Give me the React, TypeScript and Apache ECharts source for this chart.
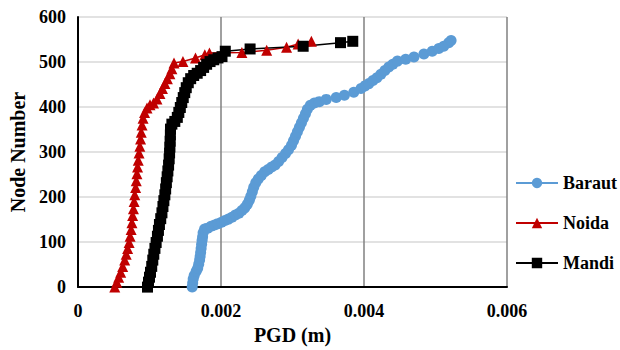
import React, { useEffect, useRef } from "react";
import * as echarts from "echarts";

const xTicks = [0, 0.002, 0.004, 0.006];
const yTicks = [0, 100, 200, 300, 400, 500, 600];

const barautX = [0.001597, 0.001604, 0.001611, 0.001625, 0.001653, 0.001674, 0.001688, 0.001701, 0.001708, 0.001715, 0.001722, 0.001729, 0.001736, 0.001743, 0.00175, 0.001771, 0.001813, 0.001861, 0.00191, 0.001958, 0.002007, 0.002056, 0.002104, 0.002153, 0.002201, 0.00225, 0.002292, 0.002333, 0.002368, 0.002396, 0.002417, 0.002438, 0.002458, 0.002486, 0.002521, 0.002563, 0.002611, 0.00266, 0.002708, 0.002757, 0.002806, 0.002854, 0.002903, 0.002944, 0.002986, 0.003014, 0.003042, 0.003069, 0.003097, 0.003125, 0.003153, 0.003181, 0.003208, 0.00325, 0.003306, 0.003375, 0.003472, 0.003611, 0.003726, 0.003857, 0.003958, 0.004014, 0.004069, 0.004125, 0.004181, 0.004236, 0.004292, 0.004347, 0.004403, 0.004468, 0.004583, 0.004699, 0.004838, 0.004954, 0.005046, 0.005115, 0.005185, 0.005218];
const barautY = [0, 9, 18, 26, 35, 42, 51, 60, 68, 77, 86, 95, 104, 112, 121, 129, 131, 135, 138, 141, 144, 148, 151, 155, 160, 164, 170, 176, 184, 193, 202, 212, 222, 232, 240, 248, 256, 261, 267, 271, 279, 288, 297, 305, 315, 325, 335, 345, 355, 365, 375, 385, 395, 404, 409, 412, 417, 421, 426, 433, 441, 447, 452, 459, 465, 473, 481, 489, 495, 502, 506, 511, 518, 524, 530, 535, 543, 548];

const noidaX = [0.000514, 0.000542, 0.000569, 0.000597, 0.000625, 0.000653, 0.000674, 0.000694, 0.000715, 0.000729, 0.000743, 0.000754, 0.000764, 0.000775, 0.000785, 0.000794, 0.000806, 0.000815, 0.000824, 0.000833, 0.000843, 0.000854, 0.000865, 0.000875, 0.000885, 0.000896, 0.00091, 0.000931, 0.000965, 0.001007, 0.001056, 0.001104, 0.001146, 0.001181, 0.001215, 0.00125, 0.001285, 0.001313, 0.001343, 0.001468, 0.001643, 0.001774, 0.001838, 0.002292, 0.002639, 0.002917, 0.003079, 0.003264];
const noidaY = [0, 11, 22, 33, 46, 60, 73, 86, 99, 113, 128, 143, 159, 174, 190, 205, 221, 236, 252, 267, 282, 298, 313, 329, 344, 360, 375, 388, 398, 405, 409, 418, 430, 441, 452, 463, 474, 485, 498, 501, 509, 516, 520, 521, 526, 533, 540, 546];

const mandiX = [0.000972, 0.000986, 0.001, 0.001014, 0.001031, 0.001046, 0.00106, 0.001076, 0.001093, 0.001111, 0.001125, 0.001139, 0.001157, 0.001174, 0.001188, 0.001201, 0.001215, 0.001226, 0.001236, 0.001247, 0.001257, 0.001267, 0.001275, 0.001281, 0.001285, 0.001289, 0.001292, 0.001294, 0.001313, 0.001354, 0.001389, 0.00141, 0.001431, 0.001451, 0.001472, 0.001493, 0.001514, 0.001542, 0.001576, 0.001618, 0.001667, 0.001715, 0.001757, 0.001799, 0.001847, 0.001899, 0.001958, 0.002014, 0.00206, 0.002407, 0.003149, 0.003671, 0.003843];
const mandiY = [0, 11, 22, 33, 46, 60, 73, 86, 99, 113, 126, 139, 152, 165, 179, 192, 205, 218, 232, 245, 258, 271, 285, 298, 311, 324, 338, 351, 362, 368, 377, 388, 399, 410, 421, 432, 443, 454, 463, 470, 475, 481, 488, 495, 501, 505, 509, 512, 524, 529, 535, 543, 546];

const pairs = (xs: number[], ys: number[]) => xs.map((x, i) => [x, ys[i]]);

const FONT = "Liberation Serif, Times New Roman, serif";

export default function App() {
  const ref = useRef<HTMLDivElement>(null);
  useEffect(() => {
    if (!ref.current) return;
    const chart = echarts.init(ref.current, undefined, { renderer: "svg" });
    chart.setOption({
      animation: false,
      backgroundColor: "#ffffff",
      textStyle: { fontFamily: FONT },
      grid: { left: 75, right: 113, top: 17, bottom: 61 },
      legend: {
        orient: "vertical",
        left: 515,
        top: 173,
        padding: 0,
        itemWidth: 42,
        itemHeight: 13,
        itemGap: 20,
        textStyle: { fontFamily: FONT, fontWeight: "bold", fontSize: 18, color: "#000", lineHeight: 20 },
        data: ["Baraut", "Noida", "Mandi"],
      },
      xAxis: {
        type: "value",
        min: xTicks[0],
        max: xTicks[xTicks.length - 1],
        interval: xTicks[1] - xTicks[0],
        name: "PGD (m)",
        nameLocation: "middle",
        nameGap: 37,
        nameTextStyle: { fontFamily: FONT, fontWeight: "bold", fontSize: 20, color: "#000" },
        axisLine: { show: true, onZero: false, lineStyle: { color: "#000", width: 2 } },
        axisTick: { show: false },
        axisLabel: {
          margin: 15,
          fontFamily: FONT,
          fontWeight: "bold",
          fontSize: 18,
          color: "#000",
          formatter: (v: number) => (v === 0 ? "0" : v.toFixed(3)),
        },
        splitLine: { show: true, lineStyle: { color: "#808080", width: 1.5 } },
      },
      yAxis: {
        type: "value",
        min: yTicks[0],
        max: yTicks[yTicks.length - 1],
        interval: yTicks[1] - yTicks[0],
        name: "Node Number",
        nameLocation: "middle",
        nameGap: 50,
        nameTextStyle: { fontFamily: FONT, fontWeight: "bold", fontSize: 20, color: "#000" },
        axisLine: { show: true, onZero: false, lineStyle: { color: "#000", width: 2 } },
        axisTick: { show: false },
        axisLabel: { margin: 12, fontFamily: FONT, fontWeight: "bold", fontSize: 18, color: "#000" },
        splitLine: { show: true, lineStyle: { color: "#d9d9d9", width: 1.5 } },
      },
      series: [
        {
          name: "Baraut",
          type: "line",
          data: pairs(barautX, barautY),
          symbol: "circle",
          symbolSize: 11,
          lineStyle: { color: "#5b9bd5", width: 2 },
          itemStyle: { color: "#5b9bd5" },
        },
        {
          name: "Noida",
          type: "line",
          data: pairs(noidaX, noidaY),
          symbol: "triangle",
          symbolSize: 11,
          lineStyle: { color: "#c00000", width: 1.5 },
          itemStyle: { color: "#c00000" },
        },
        {
          name: "Mandi",
          type: "line",
          data: pairs(mandiX, mandiY),
          symbol: "rect",
          symbolSize: 11,
          lineStyle: { color: "#000000", width: 1.5 },
          itemStyle: { color: "#000000" },
        },
      ],
    });
    return () => chart.dispose();
  }, []);
  return <div ref={ref} style={{ width: 620, height: 350, position: "absolute", left: 0, top: 0 }} />;
}
